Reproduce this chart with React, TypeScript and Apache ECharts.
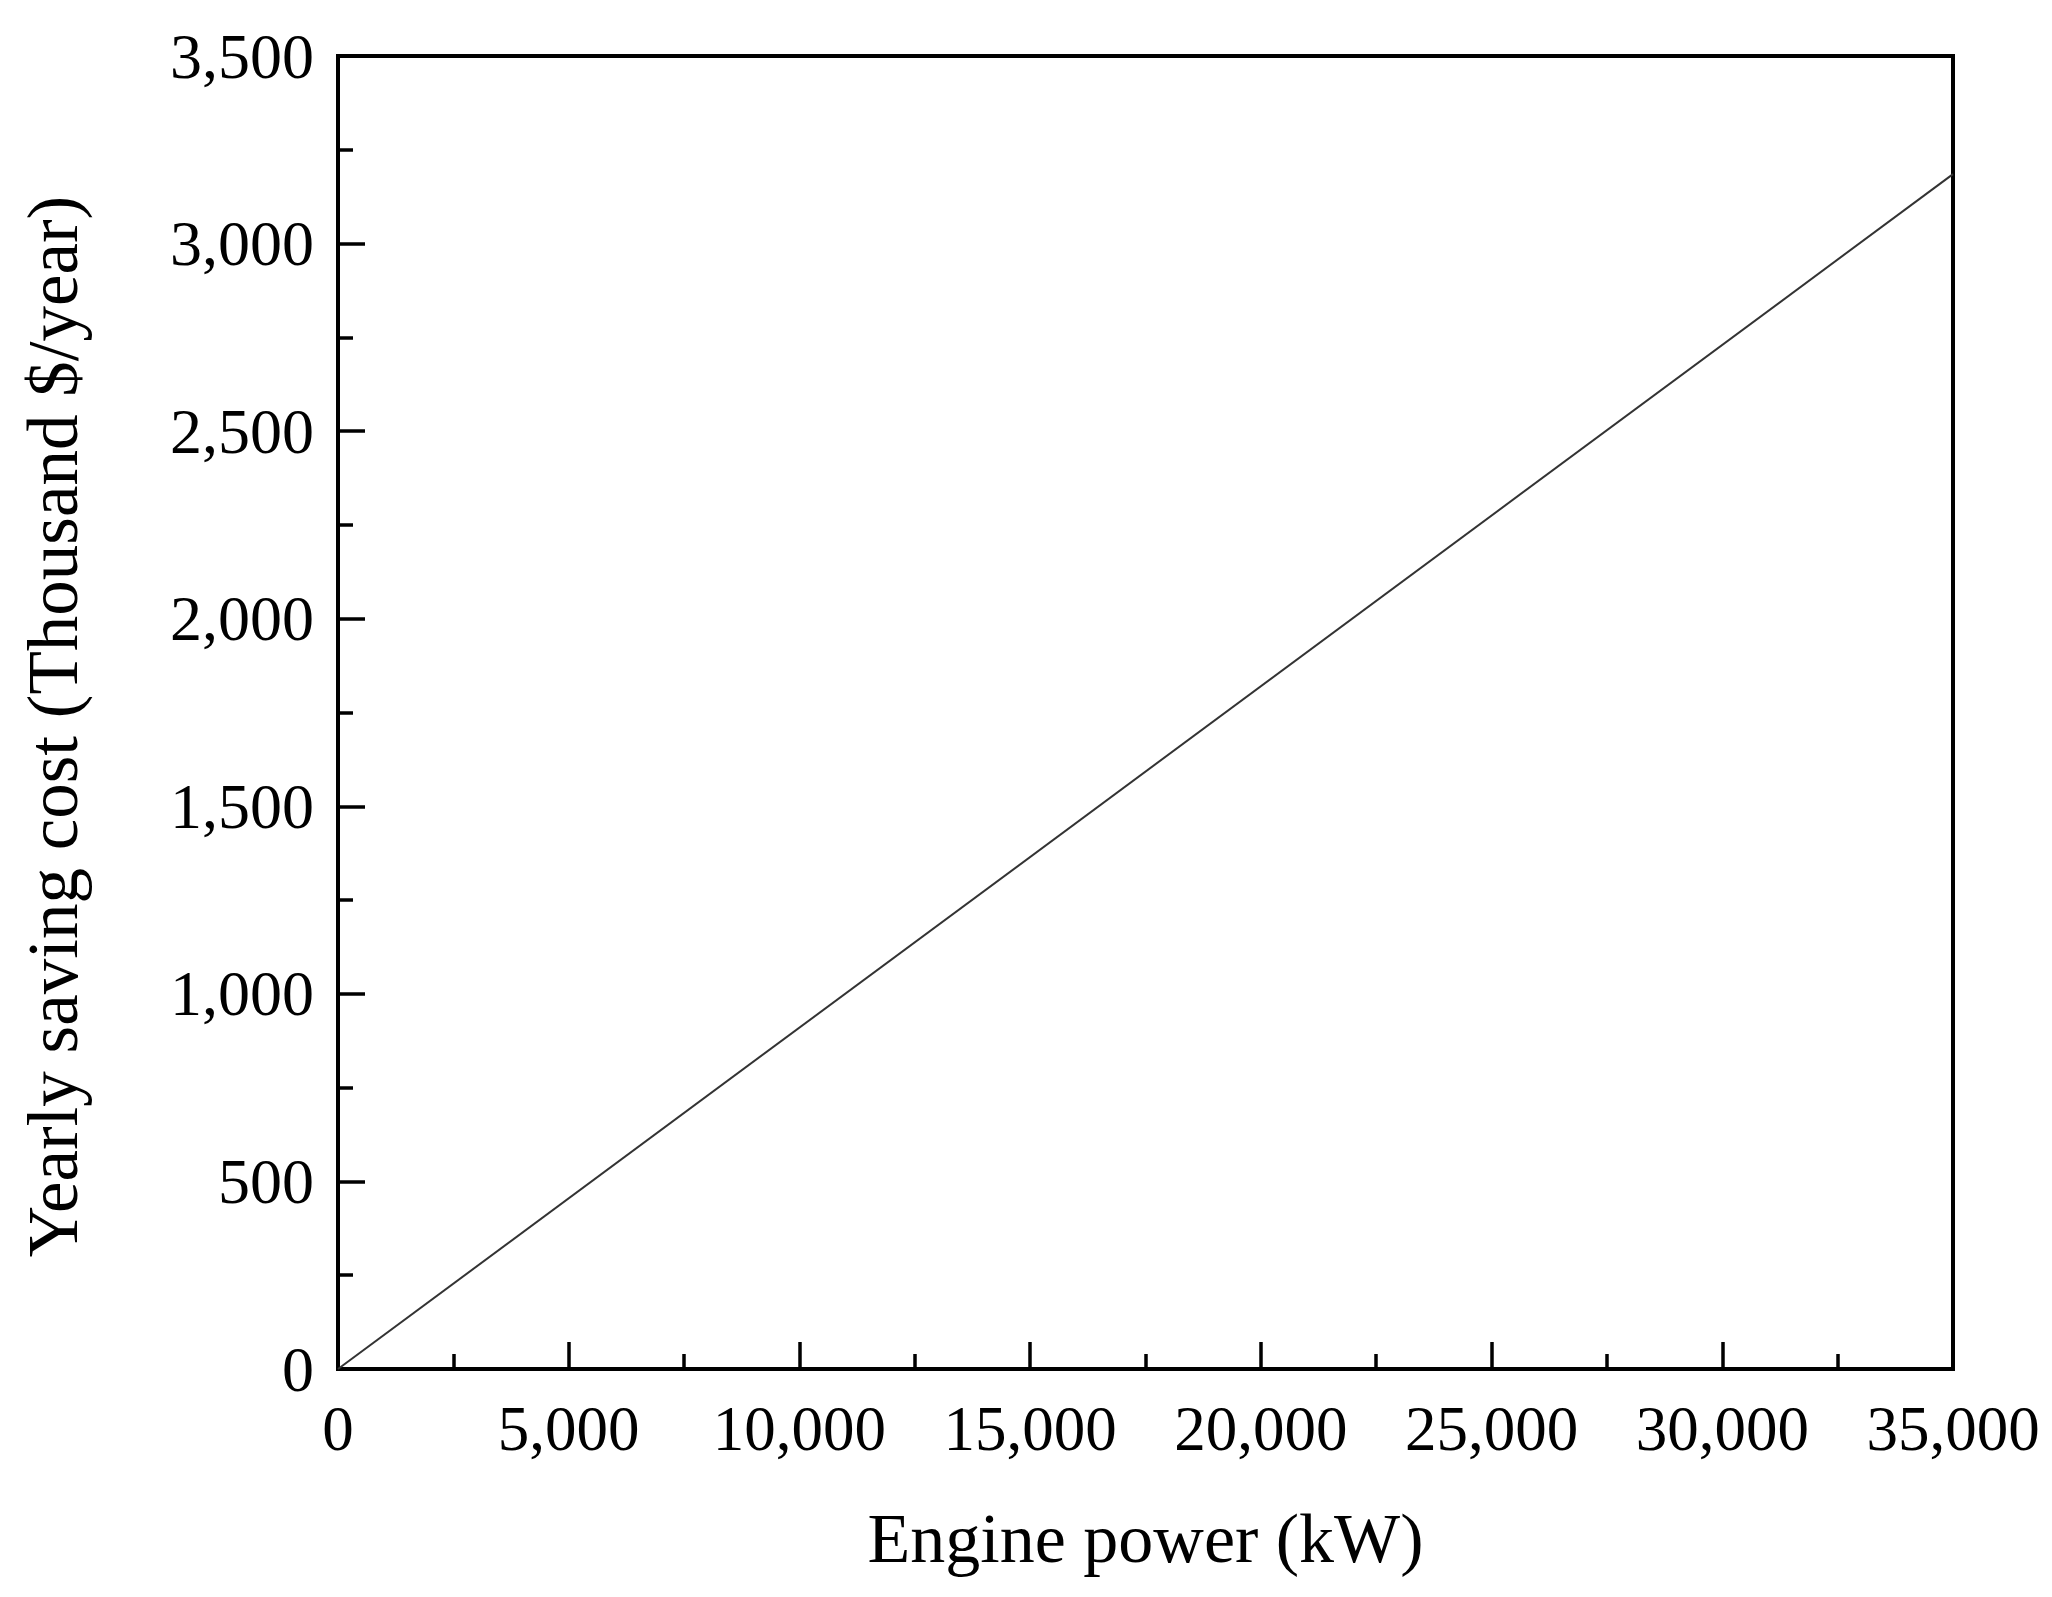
import { useEffect, useRef } from "react";
import * as echarts from "echarts";

// engine power (kW) vs yearly saving cost (thousand $/year)
const enginePower = [0, 35000];
const yearlySaving = [0, 3185];

const xTicks = { min: 0, max: 35000, interval: 5000 };
const yTicks = { min: 0, max: 3500, interval: 500 };

const FONT = "'Liberation Serif', 'Times New Roman', serif";

const fmt = (v: number) => v.toLocaleString("en-US");

export default function App() {
  const chartRef = useRef<HTMLDivElement | null>(null);

  useEffect(() => {
    if (!chartRef.current) return;
    const chart = echarts.init(chartRef.current, undefined, { renderer: "svg" });
    const axisCommon = {
      axisLine: { show: true, onZero: false, lineStyle: { color: "#000", width: 4 } },
      axisTick: { show: true, inside: true, length: 27, lineStyle: { color: "#000", width: 3.5 } },
      minorTick: { show: true, splitNumber: 2, length: 15, lineStyle: { color: "#000", width: 3.5 } },
      splitLine: { show: false },
      nameTextStyle: { fontFamily: FONT, fontSize: 70, color: "#000" },
    };
    chart.setOption({
      animation: false,
      backgroundColor: "#fff",
      grid: {
        left: 338,
        right: 99,
        top: 56,
        bottom: 228,
        show: true,
        borderColor: "#000",
        borderWidth: 4,
      },
      xAxis: {
        type: "value",
        ...xTicks,
        name: "Engine power (kW)",
        nameLocation: "middle",
        nameGap: 134,
        ...axisCommon,
        axisLabel: {
          fontFamily: FONT,
          fontSize: 63,
          color: "#000",
          margin: 28,
          formatter: fmt,
        },
      },
      yAxis: {
        type: "value",
        ...yTicks,
        name: "Yearly saving cost (Thousand $/year)",
        nameLocation: "middle",
        nameGap: 250,
        ...axisCommon,
        nameTextStyle: { fontFamily: FONT, fontSize: 71, color: "#000", padding: [0, 28, 0, 0] },
        axisLabel: {
          fontFamily: FONT,
          fontSize: 64,
          color: "#000",
          margin: 24,
          formatter: fmt,
        },
      },
      series: [
        {
          type: "line",
          data: enginePower.map((p, i) => [p, yearlySaving[i]]),
          showSymbol: false,
          lineStyle: { color: "#333", width: 2 },
        },
      ],
    });
    const onResize = () => chart.resize();
    window.addEventListener("resize", onResize);
    return () => {
      window.removeEventListener("resize", onResize);
      chart.dispose();
    };
  }, []);

  return (
    <div
      ref={chartRef}
      style={{ position: "fixed", left: 0, top: 0, width: 2052, height: 1597, background: "#fff" }}
    />
  );
}
